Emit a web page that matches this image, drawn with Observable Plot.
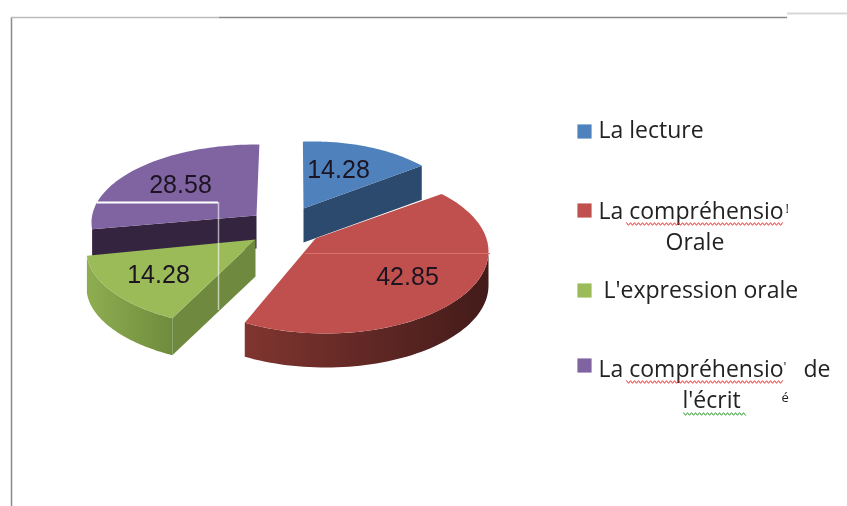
<!DOCTYPE html>
<html><head><meta charset="utf-8">
<style>html,body{margin:0;padding:0;background:#fff}svg{display:block;filter:blur(.35px)}</style>
<script src="https://cdn.jsdelivr.net/npm/d3@7"></script>
<script src="https://cdn.jsdelivr.net/npm/@observablehq/plot@0.6"></script>
</head><body><script>
const categories = ["La lecture", "La compréhension Orale", "L'expression orale", "La compréhension de l'écrit"];
const values = [14.28, 42.85, 14.28, 28.58];
const colors = ["#4f81bd", "#c0504d", "#9bbb59", "#8064a2"];

// Exploded 3D look: per-slice apex, ellipse and small perspective trims (degrees)
const apexes  = [[303,208],[315,238],[255,239],[256,215]];
const centres = [[313,222],[325,251],[256,250],[256,222]];
const radii   = [[152,81],[163,82],[170,78],[165,78]];
const trims   = [[-4,-6],[-6,4],[4,9],[8,1]];
const depths  = [34,34,37,33];

const total = d3.sum(values);
const rad = d => d * Math.PI / 180;
let cum = 0;
const slices = values.map((v, i) => {
  const a0 = cum / total * 360; cum += v; const a1 = cum / total * 360;
  return {i, cat: categories[i], t0: a0 + trims[i][0], t1: a1 + trims[i][1],
          apex: apexes[i], c: centres[i], r: radii[i], d: depths[i]};
});
const pt = (s, t) => [s.c[0] + s.r[0] * Math.sin(rad(t)), s.c[1] - s.r[1] * Math.cos(rad(t))];
const arc = (s, a, b) => d3.range(0, 61).map(k => pt(s, a + (b - a) * k / 60));
const rows = (pts, s) => pts.map(([x, y]) => ({x, y, cat: s.cat}));

const topFace = s => rows([s.apex, ...arc(s, s.t0, s.t1)], s);
const wall = (s, a, b) => { const p = arc(s, a, b); return rows([...p, ...p.slice().reverse().map(([x, y]) => [x, y + s.d])], s); };
const cut = (s, t) => { const p = pt(s, t); return rows([s.apex, p, [p[0], p[1] + s.d], [s.apex[0], s.apex[1] + s.d]], s); };

const poly = (data, fill) => Plot.line(data, {x: "x", y: "y", fill, stroke: "none"});
const [blue, red, green, purple] = slices;

// Legend
const legendY = [131, 210, 290, 365];
const legendRows = categories.map((c, i) => ({c, y: legendY[i]}));
const legendLines = [
  {t: "La lecture", x: 598, y: 130},
  {t: "La compréhensio", x: 598, y: 211},
  {t: "Orale", x: 665, y: 242},
  {t: "L'expression orale", x: 603, y: 290},
  {t: "La compréhensio", x: 598, y: 369},
  {t: "de", x: 803, y: 369},
  {t: "l'écrit", x: 682, y: 400}
];
const clipped = [{t: "!", x: 785, y: 208}, {t: "'", x: 783, y: 366}, {t: "é", x: 781, y: 397}];
const squiggle = (x0, x1, y) => d3.range(0, Math.floor((x1 - x0) / 2) + 1).map(k => ({x: x0 + k * 2, y: y + (k % 2 ? 1.3 : -1.3)}));

const labels = slices.map((s, i) => ({t: values[i].toFixed(2), x: [338, 407, 158, 180][i], y: [169, 276, 274, 184][i]}));

const defs = () => {
  const ns = "http://www.w3.org/2000/svg";
  const d = document.createElementNS(ns, "defs");
  const grad = (id, a, b) => {
    const g = document.createElementNS(ns, "linearGradient"); g.setAttribute("id", id);
    [[0, a], [1, b]].forEach(([o, c]) => { const st = document.createElementNS(ns, "stop"); st.setAttribute("offset", o); st.setAttribute("stop-color", c); g.appendChild(st); });
    d.appendChild(g);
  };
  grad("redSide", "#80352f", "#431b1a");
  grad("greenSide", "#8fad50", "#6f8c3e");
  return d;
};

const chart = Plot.plot({
  width: 847, height: 506, margin: 0,
  style: {background: "#fff", overflow: "hidden"},
  x: {domain: [0, 847], axis: null},
  y: {domain: [506, 0], axis: null},
  color: {type: "ordinal", domain: categories, range: colors},
  marks: [
    defs,
    // chart frame
    Plot.ruleX([11], {y1: 17, y2: 506, stroke: "#8a8a8a", strokeWidth: 1.5}),
    Plot.ruleY([17], {x1: 11, x2: 219, stroke: "#bbb", strokeWidth: 1.5}),
    Plot.ruleY([17], {x1: 219, x2: 787, stroke: "#888", strokeWidth: 1.5}),
    Plot.ruleY([13], {x1: 787, x2: 847, stroke: "#d8d8d8", strokeWidth: 2}),
    // blue
    poly(cut(blue, blue.t1), "#2c4a6e"),
    poly(topFace(blue), "cat"),
    // purple
    poly(cut(purple, purple.t0), "#35243f"),
    poly(topFace(purple), "cat"),
    // green
    poly(cut(green, green.t0), "#6f8a3f"),
    poly(wall(green, green.t0, green.t1), "url(#greenSide)"),
    poly(topFace(green), "cat"),
    // red
    poly(wall(red, 90, red.t1), "url(#redSide)"),
    poly(topFace(red), "cat"),
    // screenshot artefacts across the pie
    Plot.ruleY([253], {x1: 305, x2: 490, stroke: "#d9726e", strokeWidth: 1}),
    Plot.ruleY([202], {x1: 97, x2: 218, stroke: "#fff", strokeWidth: 2}),
    Plot.ruleX([218], {y1: 202, y2: 310, stroke: "#fff", strokeOpacity: 0.6, strokeWidth: 1.5}),
    // value labels
    Plot.text(labels, {x: "x", y: "y", text: "t", fontFamily: "Liberation Sans", fontSize: 25, fill: "#1c1420"}),
    // legend
    Plot.dot(legendRows, {x: () => 584, y: "y", symbol: "square", r: 8, fill: "c", stroke: "none"}),
    Plot.text(legendLines, {x: "x", y: "y", text: "t", textAnchor: "start", fontFamily: "Open Sans", fontSize: 23, fill: "#222"}),
    Plot.text(clipped, {x: "x", y: "y", text: "t", textAnchor: "start", fontFamily: "Open Sans", fontSize: 13, fill: "#222"}),
    Plot.line(squiggle(626, 783, 223.5), {x: "x", y: "y", stroke: "#f03030", strokeWidth: 1}),
    Plot.line(squiggle(626, 783, 381.5), {x: "x", y: "y", stroke: "#f03030", strokeWidth: 1}),
    Plot.line(squiggle(683, 745, 413.5), {x: "x", y: "y", stroke: "#30a030", strokeWidth: 1})
  ]
});
document.body.appendChild(chart);
</script></body></html>
